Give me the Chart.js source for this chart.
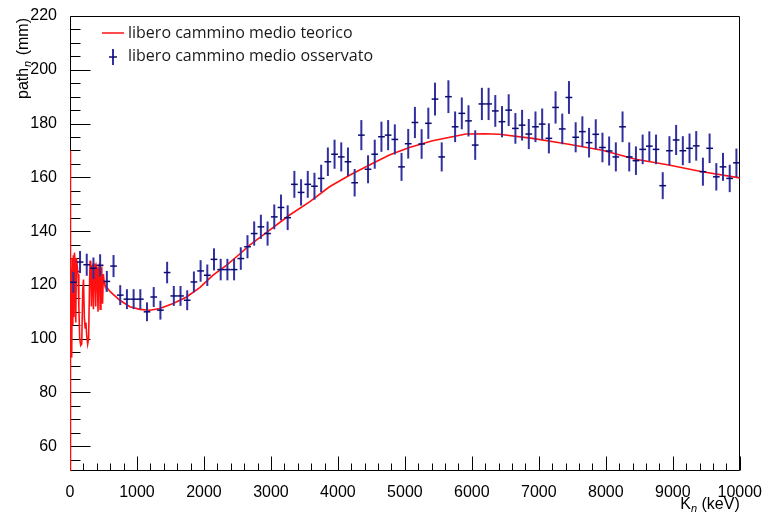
<!DOCTYPE html>
<html>
<head>
<meta charset="utf-8">
<title>Libero cammino medio</title>
<script src="https://cdn.jsdelivr.net/npm/chart.js@4.4.1/dist/chart.umd.min.js"></script>
<style>
  html, body { margin: 0; padding: 0; background: #ffffff; }
  canvas { display: block; }
</style>
</head>
<body>
<canvas id="c" width="766" height="515"></canvas>
<script>
// Energy bins (keV): centres of 100 keV wide bins
const binCentres = [
  50, 150, 250, 350, 450, 550, 650, 750, 850, 950,
  1050, 1150, 1250, 1350, 1450, 1550, 1650, 1750, 1850, 1950,
  2050, 2150, 2250, 2350, 2450, 2550, 2650, 2750, 2850, 2950,
  3050, 3150, 3250, 3350, 3450, 3550, 3650, 3750, 3850, 3950,
  4050, 4150, 4250, 4350, 4450, 4550, 4650, 4750, 4850, 4950,
  5050, 5150, 5250, 5350, 5450, 5550, 5650, 5750, 5850, 5950,
  6050, 6150, 6250, 6350, 6450, 6550, 6650, 6750, 6850, 6950,
  7050, 7150, 7250, 7350, 7450, 7550, 7650, 7750, 7850, 7950,
  8050, 8150, 8250, 8350, 8450, 8550, 8650, 8750, 8850, 8950,
  9050, 9150, 9250, 9350, 9450, 9550, 9650, 9750, 9850, 9950
];
const binHalfWidth = 50;

// Observed mean free path (mm) per bin
const observedPath = [
  121.0, 128.5, 127.5, 126.2, 127.3, 121.3, 127.0, 116.2, 114.7, 114.7,
  114.7, 110.0, 115.5, 110.6, 124.6, 115.9, 115.9, 114.3, 121.1, 125.2,
  123.6, 129.5, 125.7, 125.7, 125.7, 129.8, 134.2, 139.1, 141.6, 139.1,
  145.3, 148.8, 145.0, 157.4, 154.4, 157.4, 156.7, 159.6, 165.8, 168.6,
  167.6, 165.8, 158.0, 175.7, 163.0, 168.6, 175.1, 175.7, 174.1, 163.9,
  172.5, 180.4, 172.4, 180.1, 189.1, 167.6, 190.0, 178.8, 183.8, 181.0,
  172.0, 187.3, 187.3, 184.7, 180.7, 185.0, 178.2, 179.4, 176.1, 178.8,
  179.8, 174.5, 186.0, 178.0, 189.7, 174.9, 177.0, 172.9, 176.0, 171.1,
  169.8, 167.6, 178.8, 167.6, 166.2, 170.4, 171.6, 170.4, 156.9, 169.9,
  173.9, 169.9, 170.8, 171.7, 162.1, 170.8, 160.2, 163.9, 159.6, 165.4
];

// Statistical uncertainty (mm) per bin
const observedError = [
  3.9, 4.1, 4.1, 4.0, 4.1, 3.9, 4.1, 3.7, 3.7, 3.7,
  3.7, 3.5, 3.7, 3.5, 4.0, 3.7, 3.7, 3.7, 3.9, 4.0,
  4.0, 4.1, 4.0, 4.0, 4.0, 4.2, 4.3, 4.5, 4.5, 4.5,
  4.6, 4.8, 4.6, 5.0, 4.9, 5.0, 5.0, 5.1, 5.3, 5.4,
  5.4, 5.3, 5.1, 5.6, 5.2, 5.4, 5.6, 5.6, 5.6, 5.2,
  5.5, 5.8, 5.5, 5.8, 6.1, 5.4, 6.1, 5.7, 5.9, 5.8,
  5.5, 6.0, 6.0, 5.9, 5.8, 5.9, 5.7, 5.7, 5.6, 5.7,
  5.8, 5.6, 6.0, 5.7, 6.1, 5.6, 5.7, 5.5, 5.6, 5.5,
  5.4, 5.4, 5.7, 5.4, 5.3, 5.5, 5.5, 5.5, 5.0, 5.4,
  5.6, 5.4, 5.5, 5.5, 5.2, 5.5, 5.1, 5.2, 5.1, 5.3
];

// Theoretical mean free path: resonance region below ~520 keV, smooth above
const theoryEnergy = [
  0, 2, 5, 8, 13, 18, 23, 28, 34, 42,
  50, 58, 66, 76, 86, 96, 108, 120, 132, 145,
  160, 175, 190, 202, 214, 226, 238, 250, 264, 278,
  290, 300, 310, 320, 330, 340, 350, 360, 372, 384,
  396, 408, 418, 428, 440, 450, 462, 474, 486, 498,
  510, 520, 600, 745, 894, 1043, 1192, 1341, 1540, 1739,
  1937, 2136, 2335, 2534, 2683, 2981, 3279, 3577, 3875, 4173,
  4471, 4769, 5067, 5414, 5912, 6200, 6408, 6905, 7402, 7948,
  8445, 8942, 9439, 10000
];
const theoryPath = [
  170, 45, 40, 90, 128, 94, 126, 93, 130, 105,
  131, 108, 132, 128, 106, 130, 127, 124, 112, 100,
  97.5, 98, 118, 122, 108, 104, 106, 101, 98, 100,
  118, 129, 127, 112, 127, 128, 111, 126, 128, 112,
  127, 126, 110, 126, 128, 111, 125, 126, 113, 124,
  121, 120, 117.5, 114.3, 111.9, 110.9, 110.6, 111.2, 113.1, 115.5,
  119.0, 123.6, 127.3, 131.5, 134.8, 140.4, 146.0, 150.9, 156.5, 160.8,
  164.6, 168.3, 171.1, 173.6, 176.1, 176.2, 176.0, 174.5, 172.5, 170.1,
  166.7, 164.6, 162.1, 159.8
];

// Axis ranges and tick labels
const xRange = [0, 10000];
const yRange = [50.8, 220];
const xTicks = [0, 1000, 2000, 3000, 4000, 5000, 6000, 7000, 8000, 9000, 10000];
const yTicks = [60, 80, 100, 120, 140, 160, 180, 200, 220];
const xMinorStep = 200;
const yMinorStep = 5;

const legendLabels = ['libero cammino medio teorico', 'libero cammino medio osservato'];

const AXIS_FONT = '"Liberation Sans", Arial, Helvetica, sans-serif';
const LEGEND_FONT = '"Open Sans", "Noto Sans", sans-serif';
const RED = '#ff1010';
const BLUE_V = '#3030a0';
const BLUE_H = '#0c0c72';

// Frame around the plot and inward-pointing major/minor ticks
const frameAndTicks = {
  id: 'frameAndTicks',
  beforeDatasetsDraw(chart) {
    const { ctx, chartArea: a, scales: { x, y } } = chart;
    const L = Math.round(a.left) + 0.5, R = Math.round(a.right) - 0.5;
    const T = Math.round(a.top) + 0.5, B = Math.round(a.bottom) - 0.5;
    ctx.save();
    ctx.strokeStyle = '#000';
    ctx.lineWidth = 1;
    ctx.beginPath();
    ctx.rect(L, T, R - L, B - T);
    // x ticks
    for (let v = xRange[0]; v <= xRange[1]; v += xMinorStep) {
      const px = Math.round(x.getPixelForValue(v)) + 0.5;
      const len = xTicks.includes(v) ? 14 : 7;
      ctx.moveTo(px, B);
      ctx.lineTo(px, B - len);
    }
    // y ticks
    const yStart = Math.ceil(yRange[0] / yMinorStep) * yMinorStep;
    for (let v = yStart; v <= yRange[1]; v += yMinorStep) {
      const py = Math.round(y.getPixelForValue(v)) + 0.5;
      const len = yTicks.includes(v) ? 20 : 10;
      ctx.moveTo(L, py);
      ctx.lineTo(L + len, py);
    }
    ctx.stroke();
    ctx.restore();
  }
};

// Error bars of the observed dataset
const errorBars = {
  id: 'errorBars',
  afterDatasetsDraw(chart) {
    const { ctx, scales: { x, y } } = chart;
    ctx.save();
    ctx.lineCap = 'butt';
    binCentres.forEach((e, i) => {
      const v = observedPath[i], s = observedError[i];
      const px = x.getPixelForValue(e);
      const py = y.getPixelForValue(v);
      ctx.strokeStyle = BLUE_V;
      ctx.lineWidth = 2;
      ctx.beginPath();
      ctx.moveTo(px, y.getPixelForValue(v - s));
      ctx.lineTo(px, y.getPixelForValue(v + s));
      ctx.stroke();
      ctx.strokeStyle = BLUE_H;
      ctx.lineWidth = 1.5;
      ctx.beginPath();
      ctx.moveTo(x.getPixelForValue(e - binHalfWidth), py);
      ctx.lineTo(x.getPixelForValue(e + binHalfWidth), py);
      ctx.stroke();
    });
    ctx.restore();
  }
};

// Axis titles with subscripts, and the legend
const titlesAndLegend = {
  id: 'titlesAndLegend',
  afterDraw(chart) {
    const { ctx, chartArea: a } = chart;
    ctx.save();
    ctx.fillStyle = '#000';
    ctx.textBaseline = 'alphabetic';

    // x title: K_n (keV), right-aligned with the axis end
    const main = '16px ' + AXIS_FONT, sub = 'italic 11px ' + AXIS_FONT;
    ctx.font = main; const wK = ctx.measureText('K').width;
    const wRest = ctx.measureText(' (keV)').width;
    ctx.font = sub; const wN = ctx.measureText('n').width;
    let xs = a.right - (wK + wN + wRest);
    const by = 509;
    ctx.font = main; ctx.fillText('K', xs, by); xs += wK;
    ctx.font = sub; ctx.fillText('n', xs, by + 3); xs += wN;
    ctx.font = main; ctx.fillText(' (keV)', xs, by);

    // y title: path_n (mm), rotated, ending at the top of the frame
    ctx.font = main; const wP = ctx.measureText('path').width;
    const wMm = ctx.measureText(' (mm)').width;
    ctx.font = sub; const wN2 = ctx.measureText('n').width;
    const total = wP + wN2 + 2 + wMm;
    ctx.translate(28, 18);
    ctx.rotate(-Math.PI / 2);
    let t = -total;
    ctx.font = main; ctx.fillText('path', t, 0); t += wP + 1;
    ctx.font = sub; ctx.fillText('n', t, 3); t += wN2 + 1;
    ctx.font = main; ctx.fillText(' (mm)', t, 0);
    ctx.setTransform(1, 0, 0, 1, 0, 0);

    // legend
    ctx.font = '16px ' + LEGEND_FONT;
    ctx.textBaseline = 'middle';
    ctx.fillStyle = '#1a1a1a';
    ctx.strokeStyle = RED; ctx.lineWidth = 1.5;
    ctx.beginPath(); ctx.moveTo(102, 33); ctx.lineTo(124, 33); ctx.stroke();
    ctx.fillText(legendLabels[0], 128, 33);
    ctx.strokeStyle = BLUE_V; ctx.lineWidth = 2;
    ctx.beginPath(); ctx.moveTo(113, 49); ctx.lineTo(113, 65); ctx.stroke();
    ctx.strokeStyle = BLUE_H; ctx.lineWidth = 1.5;
    ctx.beginPath(); ctx.moveTo(109, 57); ctx.lineTo(117, 57); ctx.stroke();
    ctx.fillText(legendLabels[1], 128, 56);
    ctx.restore();
  }
};

new Chart(document.getElementById('c'), {
  type: 'scatter',
  data: {
    datasets: [
      {
        label: legendLabels[0],
        type: 'line',
        data: theoryEnergy.map((e, i) => ({ x: e, y: theoryPath[i] })),
        borderColor: RED,
        borderWidth: 1.6,
        pointRadius: 0,
        tension: 0,
        fill: false
      },
      {
        label: legendLabels[1],
        data: binCentres.map((e, i) => ({ x: e, y: observedPath[i] })),
        pointRadius: 0,
        showLine: false
      }
    ]
  },
  options: {
    responsive: false,
    animation: false,
    devicePixelRatio: 1,
    layout: { padding: { top: 16, right: 26, left: 0, bottom: 0 } },
    plugins: { legend: { display: false }, tooltip: { enabled: false } },
    scales: {
      x: {
        type: 'linear',
        min: xRange[0], max: xRange[1],
        grid: { display: false },
        border: { display: false },
        afterBuildTicks: s => { s.ticks = xTicks.map(v => ({ value: v })); },
        afterFit: s => { s.height = 44; },
        ticks: {
          font: { family: AXIS_FONT, size: 16 },
          color: '#000',
          padding: 4,
          maxRotation: 0,
          autoSkip: false,
          callback: v => String(v)
        }
      },
      y: {
        type: 'linear',
        min: yRange[0], max: yRange[1],
        grid: { display: false },
        border: { display: false },
        afterBuildTicks: s => { s.ticks = yTicks.map(v => ({ value: v })); },
        afterFit: s => { s.width = 70; },
        ticks: {
          font: { family: AXIS_FONT, size: 16 },
          color: '#000',
          padding: 5,
          autoSkip: false,
          callback: v => String(v)
        }
      }
    }
  },
  plugins: [frameAndTicks, errorBars, titlesAndLegend]
});
</script>
</body>
</html>
